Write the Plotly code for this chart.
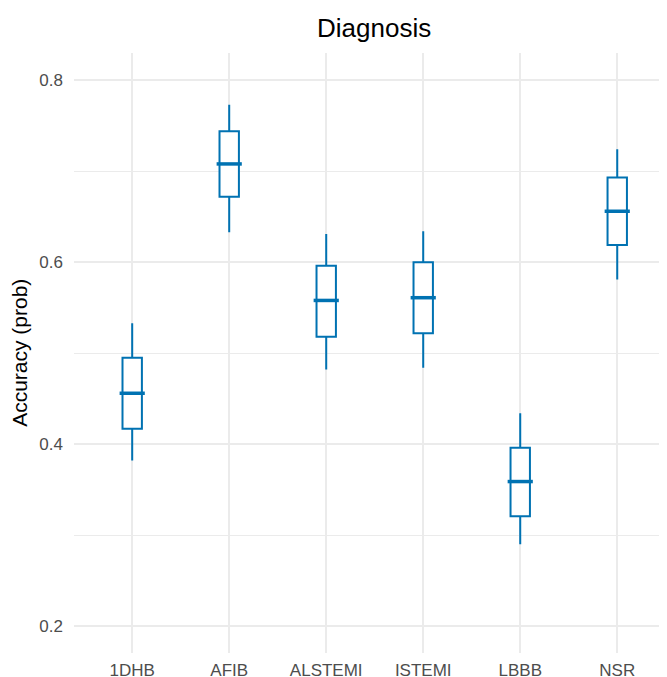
import plotly.graph_objects as go

categories = ["1DHB", "AFIB", "ALSTEMI", "ISTEMI", "LBBB", "NSR"]
lower_whisker = [0.382, 0.633, 0.482, 0.484, 0.290, 0.581]
q1 = [0.417, 0.672, 0.518, 0.522, 0.321, 0.619]
median = [0.456, 0.708, 0.558, 0.561, 0.359, 0.656]
q3 = [0.495, 0.744, 0.596, 0.600, 0.396, 0.693]
upper_whisker = [0.533, 0.773, 0.631, 0.634, 0.434, 0.724]
y_ticks = [0.2, 0.4, 0.6, 0.8]
y_tick_labels = ["0.2", "0.4", "0.6", "0.8"]

blue = "#0072B2"
grid = "#EBEBEB"

fig = go.Figure()
fig.add_trace(go.Box(
    x=categories,
    q1=q1, median=median, q3=q3,
    lowerfence=lower_whisker, upperfence=upper_whisker,
    width=0.2,
    fillcolor="white",
    line=dict(color=blue, width=2),
    whiskerwidth=0,
    boxpoints=False,
    hoverinfo="skip",
    showlegend=False,
))
fig.add_trace(go.Scatter(
    x=categories, y=median, mode="markers",
    marker=dict(symbol="line-ew", size=18, line=dict(color=blue, width=3.5)),
    hoverinfo="skip", showlegend=False,
))

fig.add_annotation(
    text="Accuracy (prob)", textangle=-90,
    xref="paper", yref="paper", x=-0.093, y=0.5,
    xanchor="center", yanchor="middle", showarrow=False,
    font=dict(size=21, color="black"),
)

fig.update_layout(
    width=659, height=669,
    margin=dict(l=66, r=0, t=45, b=24, autoexpand=False),
    paper_bgcolor="white", plot_bgcolor="white",
    font=dict(family="Liberation Sans, Arial, sans-serif"),
    title=dict(text="Diagnosis", x=0.5555, xanchor="center",
               yref="container", y=0.971, yanchor="middle",
               font=dict(size=26, color="black")),
    xaxis=dict(
        type="category", range=[-0.6, 5.513], automargin=False,
        showgrid=True, gridcolor=grid, gridwidth=1.6,
        showline=False, zeroline=False, ticks="",
        tickfont=dict(size=17, color="#4D4D4D"),
        ticklabelstandoff=5,
    ),
    yaxis=dict(
        range=[0.1706, 0.8299], automargin=False,
        tickvals=y_ticks, ticktext=y_tick_labels,
        showgrid=True, gridcolor=grid, gridwidth=1.6,
        minor=dict(dtick=0.1, tick0=0.1, showgrid=True, gridcolor=grid, gridwidth=0.8),
        showline=False, zeroline=False, ticks="",
        tickfont=dict(size=17, color="#4D4D4D"),
        ticklabelstandoff=10,
    ),
)

fig.write_html("out.html")
